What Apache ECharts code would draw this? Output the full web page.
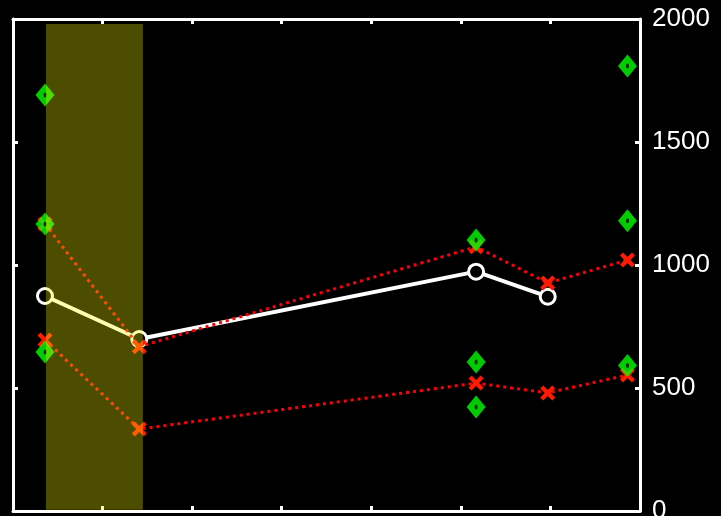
<!DOCTYPE html>
<html>
<head>
<meta charset="utf-8">
<script src="https://cdn.jsdelivr.net/npm/echarts@6/dist/echarts.min.js"></script>
<style>html,body{margin:0;padding:0;background:#000;}#c{width:721px;height:516px;}</style>
</head>
<body>
<div id="c"></div>
<script>
var xVals = [0.357, 1.41, 5.17, 5.97, 6.86];
var whiteVals = [874, 699, 973, 871];
var redUpper = [1167, 668, 1074, 927, 1020];
var redLower = [695, 333, 520, 480, 553];
var greenX = [0.357, 0.357, 0.357, 5.17, 5.17, 5.17, 6.86, 6.86, 6.86];
var greenVals = [1691, 1167, 646, 1102, 606, 423, 1809, 1180, 591];
var bandX = [0.368, 1.45];
var bandY = [5, 1980];
var yTicks = [0, 500, 1000, 1500, 2000];

function pairs(xs, ys) { return ys.map(function (v, i) { return [xs[i], v]; }); }

var chart = echarts.init(document.getElementById('c'), null, {renderer: 'canvas'});
var xPath = 'path://M0,2 L2,0 L5,3 L8,0 L10,2 L7,5 L10,8 L8,10 L5,7 L2,10 L0,8 L3,5 Z';
var axisCommon = {
  type: 'value', min: 0, max: 7, interval: 1,
  axisLine: {show: true, onZero: false, lineStyle: {color: '#fff', width: 3}},
  axisTick: {show: true, inside: true, length: 5, lineStyle: {color: '#fff', width: 3}},
  axisLabel: {show: false}, splitLine: {show: false}
};
var yCommon = {
  type: 'value', min: yTicks[0], max: yTicks[yTicks.length - 1], interval: 500,
  axisLine: {show: true, onZero: false, lineStyle: {color: '#fff', width: 3}},
  axisTick: {show: true, inside: true, length: 5, lineStyle: {color: '#fff', width: 3}},
  splitLine: {show: false}
};
chart.setOption({
  backgroundColor: '#000',
  animation: false,
  grid: {left: 13, right: 81, top: 19, bottom: 5, containLabel: false, outerBoundsMode: 'none'},
  xAxis: [
    Object.assign({position: 'bottom'}, axisCommon),
    Object.assign({position: 'top'}, axisCommon)
  ],
  yAxis: [
    Object.assign({position: 'left', axisLabel: {show: false}}, yCommon),
    Object.assign({position: 'right', axisLabel: {show: true, color: '#fff', fontSize: 26, fontFamily: 'Liberation Sans, Arial, sans-serif', margin: 12,
      formatter: function (v) { return String(v); }}}, yCommon)
  ],
  series: [
    {
      type: 'line', data: pairs(xVals, whiteVals), z: 2,
      symbol: 'circle', symbolSize: 15,
      itemStyle: {color: '#000', borderColor: '#fff', borderWidth: 3},
      lineStyle: {color: '#fff', width: 4}
    },
    {
      type: 'line', data: pairs(xVals, redUpper), z: 3,
      symbol: xPath, symbolSize: 15,
      itemStyle: {color: '#ff1a00'},
      lineStyle: {color: '#ff0000', width: 3, type: [3, 4]}
    },
    {
      type: 'line', data: pairs(xVals, redLower), z: 3,
      symbol: xPath, symbolSize: 15,
      itemStyle: {color: '#ff1a00'},
      lineStyle: {color: '#ff0000', width: 3, type: [3, 4]}
    },
    {
      type: 'scatter', data: pairs(greenX, greenVals), z: 4,
      symbol: 'diamond', symbolSize: [19, 23],
      itemStyle: {color: '#00ff00'}
    },
    {
      type: 'scatter', data: pairs(greenX, greenVals), z: 5,
      symbol: 'circle', symbolSize: [3, 5],
      itemStyle: {color: '#000'}
    },
    {
      type: 'custom', z: 10, silent: true,
      data: [[bandX[0], bandX[1], bandY[0], bandY[1]]],
      renderItem: function (params, api) {
        var p0 = api.coord([api.value(0), api.value(3)]);
        var p1 = api.coord([api.value(1), api.value(2)]);
        return {
          type: 'rect',
          shape: {x: p0[0], y: p0[1], width: p1[0] - p0[0], height: p1[1] - p0[1]},
          style: {fill: 'rgba(255,255,0,0.3)'}
        };
      }
    }
  ]
});
</script>
</body>
</html>
